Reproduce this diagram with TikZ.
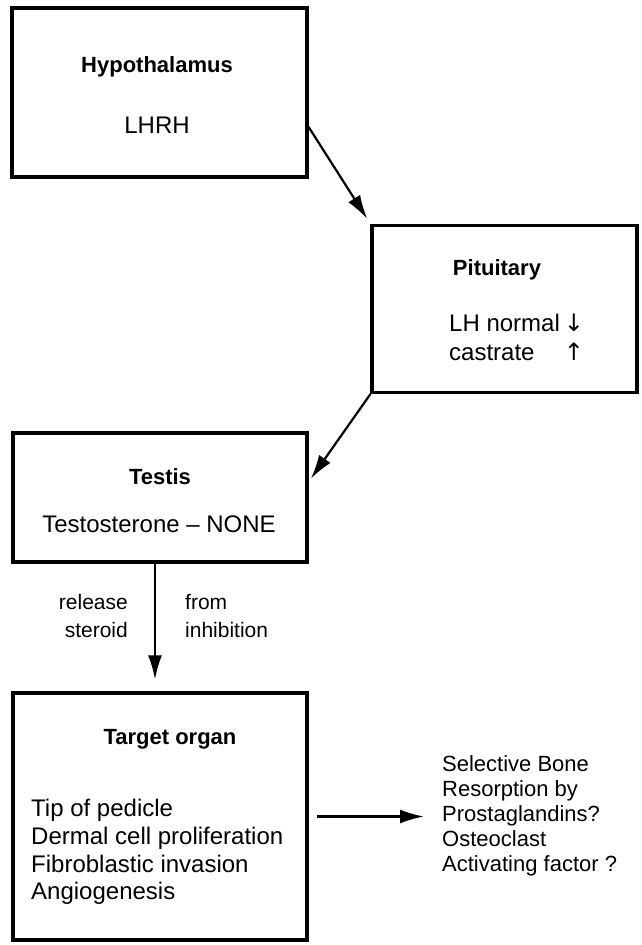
\documentclass[tikz,border=0pt]{standalone}
\usepackage{fontspec}
\setmainfont{Liberation Sans}
\newfontfamily\symfont{DejaVu Sans}
\usetikzlibrary{arrows.meta}

\begin{document}
\begin{tikzpicture}[x=1pt,y=-1pt,
    box/.style={draw, line width=3.2pt, inner sep=0pt},
    head/.style={inner sep=0pt, font=\fontsize{22}{26}\selectfont\bfseries},
    txt/.style={inner sep=0pt, font=\fontsize{24}{28}\selectfont},
    small/.style={inner sep=0pt, font=\fontsize{21}{28}\selectfont},
    flow/.style={line width=2.2pt, -{Latex[length=24pt,width=14pt]}}]
    \useasboundingbox (0,0) rectangle (641,945);

    % Boxes
    \node[box, minimum width=295pt, minimum height=169pt] (hyp) at (159.5,92.5) {};
    \node[box, minimum width=265pt, minimum height=167pt] (pit) at (504.5,309) {};
    \node[box, minimum width=294pt, minimum height=129pt] (tes) at (160,497.5) {};
    \node[box, minimum width=294pt, minimum height=247pt] (tgt) at (160,816.5) {};

    % Text in the boxes
    \node[head] (hyptitle) at (157,67) {Hypothalamus};
    \node[txt] (lhrh) at (157,125) {LHRH};
    \node[head] (pittitle) at (497,270) {Pituitary};
    \node[txt, anchor=west, font=\fontsize{24}{29}\selectfont] (lh) at (449,340)
        {\begin{tabular}{@{}l@{\,}c@{}}LH normal & {\symfont ↓}\\castrate & {\symfont ↑}\end{tabular}};
    \node[head] (testitle) at (160,477) {Testis};
    \node[txt] (testo) at (159,524) {Testosterone -- NONE};
    \node[head] (tgttitle) at (170,739) {Target organ};
    \node[txt, anchor=west, align=left, font=\fontsize{24}{27.7}\selectfont] (list) at (31,852)
        {Tip of pedicle\\Dermal cell proliferation\\Fibroblastic invasion\\Angiogenesis};

    % Labels outside
    \node[small, anchor=east, align=right] (release) at (128,616) {release\\steroid};
    \node[small, anchor=west, align=left] (from) at (185,616) {from\\inhibition};
    \node[inner sep=0pt, anchor=west, align=left, font=\fontsize{22}{25}\selectfont] (bone) at (442,816)
        {Selective Bone\\Resorption by\\Prostaglandins?\\Osteoclast\\Activating factor ?};

    % Arrows
    \draw[flow, shorten >=6pt] (hyp.-13) -- (pit.north west);
    \draw[flow, shorten >=4pt] (pit.south west) -- (tes.6);
    \draw[flow, shorten >=12pt] ([xshift=-5pt]tes.south) -- ([xshift=-5pt]tgt.north);
    \draw[flow, shorten <=8pt, shorten >=18pt] (tgt.east) -- (tgt.east -| bone.west);
\end{tikzpicture}
\end{document}
